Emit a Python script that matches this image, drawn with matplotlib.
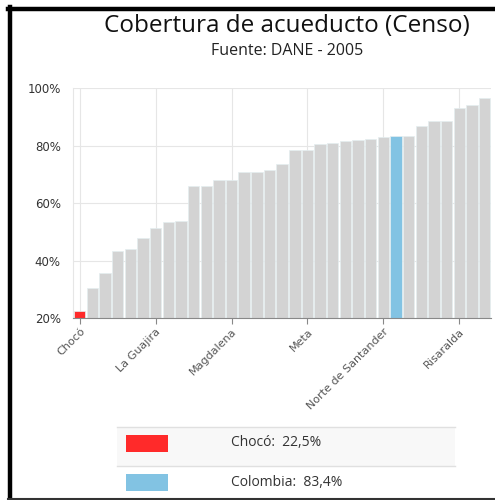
import matplotlib
matplotlib.use('Agg')
import matplotlib.pyplot as plt
from matplotlib.patches import Rectangle
from matplotlib.lines import Line2D


DEPARTMENTS = ['Chocó', 'Vaupés', 'Guainía', 'Vichada', 'Amazonas', 'Guaviare',
               'La Guajira', 'Nariño', 'Córdoba', 'Cauca', 'Putumayo', 'Sucre',
               'Magdalena', 'Bolívar', 'Caquetá', 'Cesar', 'Arauca', 'Casanare',
               'Meta', 'Boyacá', 'Antioquia', 'Huila', 'Tolima', 'Santander',
               'Norte de Santander', 'Colombia', 'Cundinamarca', 'Caldas',
               'Atlántico', 'Valle del Cauca', 'Risaralda', 'Quindío', 'Bogotá']
COVERAGE = [22.5, 30.6, 35.8, 43.4, 44.0, 47.8, 51.5, 53.6, 53.8, 66.0, 66.0,
            68.0, 68.2, 70.8, 71.0, 71.6, 73.6, 78.5, 78.5, 80.7, 81.0, 81.6,
            82.0, 82.5, 83.0, 83.4, 83.5, 86.9, 88.7, 88.7, 93.1, 94.1, 96.6]
TICK_EVERY = 6
HIGHLIGHT = {'Chocó': '#ff2a2a', 'Colombia': '#82c3e3'}
LEGEND_ROWS = [('Chocó', '22,5%'), ('Colombia', '83,4%')]

W, H = 495, 500


def px(x, y):
    # pixel coords (top-left origin) -> figure fraction
    return x / W, 1 - y / H


def main():
    fig = plt.figure(figsize=(W / 100, H / 100), dpi=100)
    fig.patch.set_facecolor('white')

    left, top = px(73.3, 88.3)
    right, bottom = px(491, 318)
    ax = fig.add_axes([left, bottom, right - left, top - bottom])

    colors = [HIGHLIGHT.get(d, '#d3d3d3') for d in DEPARTMENTS]
    x = list(range(len(DEPARTMENTS)))
    ax.bar(x, COVERAGE, width=0.9, color=colors, edgecolor='#e4eef0',
           linewidth=0.5, zorder=2)

    ax.set_xlim(-0.5, len(DEPARTMENTS) - 0.5)
    ax.set_ylim(20, 100)
    ax.set_yticks([20, 40, 60, 80, 100])
    ax.set_yticklabels([f'{v}%' for v in [20, 40, 60, 80, 100]])
    ticks = x[::TICK_EVERY]
    ax.set_xticks(ticks)
    ax.set_xticklabels([DEPARTMENTS[i] for i in ticks], rotation=45,
                       ha='right', rotation_mode='anchor')

    ax.grid(True, color='#e6e6e6', linewidth=0.8, zorder=0)
    for side in ['top', 'right']:
        ax.spines[side].set_visible(False)
    ax.spines['left'].set_color('#e6e6e6')
    ax.spines['bottom'].set_color('#888888')
    ax.tick_params(axis='y', length=0, labelsize=8.5, labelcolor='#333333', pad=9)
    ax.tick_params(axis='x', length=4, color='#888888', labelsize=8,
                   labelcolor='#555555', pad=2)

    fig.text(*px(287, 26), 'Cobertura de acueducto (Censo)', ha='center',
             va='center', fontsize=17.5, family='Open Sans', color='#111111')
    fig.text(*px(287, 51), 'Fuente: DANE - 2005', ha='center', va='center',
             fontsize=11.5, family='Open Sans', color='#222222')

    # legend table
    x0, x1 = 117, 455
    row_top = [427, 466]
    row_h = [39, 32]
    fig.patches.append(Rectangle(px(x0, row_top[0] + row_h[0]), (x1 - x0) / W,
                                 row_h[0] / H, transform=fig.transFigure,
                                 facecolor='#f8f8f8', edgecolor='none'))
    for y in row_top:
        fig.lines.append(Line2D([x0 / W, x1 / W], [1 - y / H, 1 - y / H],
                                transform=fig.transFigure, color='#e0e0e0',
                                linewidth=1))
    for (name, value), y, h in zip(LEGEND_ROWS, row_top, row_h):
        cy = y + 16
        fig.patches.append(Rectangle(px(126, cy + 8.5), 42 / W, 17 / H,
                                     transform=fig.transFigure,
                                     facecolor=HIGHLIGHT[name], edgecolor='none'))
        fig.text(*px(231, cy), f'{name}:  {value}', ha='left', va='center',
                 fontsize=10, family='Open Sans', color='#333333')

    # frame lines
    fig.lines.append(Line2D([10 / W, 10 / W], [0, 1 - 7 / H], transform=fig.transFigure,
                            color='black', linewidth=3.2))
    fig.lines.append(Line2D([8 / W, 1], [1 - 9 / H, 1 - 9 / H], transform=fig.transFigure,
                            color='black', linewidth=3.2))
    fig.lines.append(Line2D([8 / W, 1], [1 - 499 / H, 1 - 499 / H],
                            transform=fig.transFigure, color='#333333', linewidth=1.5))

    fig.savefig('out.png', dpi=100)


if __name__ == '__main__':
    main()
